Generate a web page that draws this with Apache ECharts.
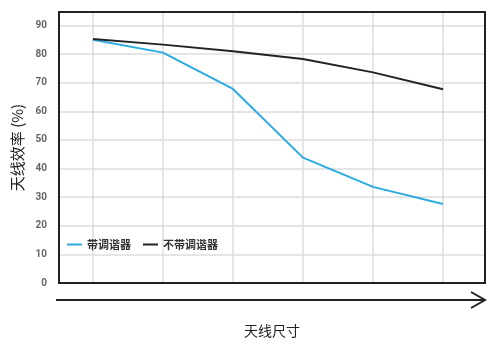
<!DOCTYPE html>
<html>
<head>
<meta charset="utf-8">
<script src="https://cdn.jsdelivr.net/npm/echarts@6/dist/echarts.min.js"></script>
<style>html,body{margin:0;padding:0;background:#fff}#c{width:500px;height:344px}</style>
</head>
<body>
<div id="c"></div>
<script>
var xPositions = [1, 2, 3, 4, 5, 6];
var withTuner = [85.0, 80.5, 67.8, 43.8, 33.6, 27.6];
var withoutTuner = [85.3, 83.3, 81.0, 78.3, 73.6, 67.7];
var seriesNames = ['带调谐器', '不带调谐器'];
var yTitle = '天线效率 (%)';
var xTitle = '天线尺寸';

function pairs(xs, ys) { return xs.map(function (x, i) { return [x, ys[i]]; }); }

var chart = echarts.init(document.getElementById('c'));
chart.setOption({
  animation: false,
  backgroundColor: '#fff',
  grid: { left: 59, right: 15, top: 12, bottom: 61 },
  legend: {
    left: 62, top: 234, itemWidth: 15, itemHeight: 2, itemGap: 12,
    icon: 'rect',
    textStyle: { fontSize: 11, color: '#333', fontFamily: 'Noto Sans CJK SC', fontWeight: 'bold' },
    data: seriesNames
  },
  xAxis: {
    type: 'value', min: 0.515, max: 6.6, minInterval: 1, maxInterval: 1,
    axisLine: { show: false }, axisTick: { show: false }, axisLabel: { show: false },
    splitLine: { show: true, lineStyle: { color: '#dcdcdc', width: 1.5 } },
    name: xTitle, nameLocation: 'middle', nameGap: 41,
    nameTextStyle: { fontSize: 14, color: '#222', fontFamily: 'Noto Sans CJK SC' }
  },
  yAxis: {
    type: 'value', min: 0, max: 94.7, minInterval: 10, maxInterval: 10,
    axisLine: { show: false }, axisTick: { show: false },
    axisLabel: { showMaxLabel: false, fontSize: 10, fontWeight: 'bold', color: '#666', margin: 12, fontFamily: 'Roboto' },
    splitLine: { show: true, lineStyle: { color: '#dcdcdc', width: 1.5 } },
    name: yTitle, nameLocation: 'middle', nameGap: 32, nameRotate: 90,
    nameTextStyle: { fontSize: 15, color: '#222', fontFamily: 'Noto Sans CJK SC' }
  },
  graphic: [
    { type: 'rect', z: 100, shape: { x: 59, y: 12, width: 426, height: 271 }, style: { stroke: '#222', lineWidth: 2, fill: null } },
    { type: 'line', shape: { x1: 56, y1: 300, x2: 485, y2: 300 }, style: { stroke: '#222', lineWidth: 2 } },
    { type: 'polyline', shape: { points: [[471, 292], [485, 300], [471, 308]] }, style: { stroke: '#222', lineWidth: 2, fill: null } }
  ],
  series: [
    { name: seriesNames[0], type: 'line', data: pairs(xPositions, withTuner), symbol: 'none', lineStyle: { color: '#29abe2', width: 2 }, itemStyle: { color: '#29abe2' } },
    { name: seriesNames[1], type: 'line', data: pairs(xPositions, withoutTuner), symbol: 'none', lineStyle: { color: '#222', width: 2 }, itemStyle: { color: '#222' } }
  ]
});
</script>
</body>
</html>
